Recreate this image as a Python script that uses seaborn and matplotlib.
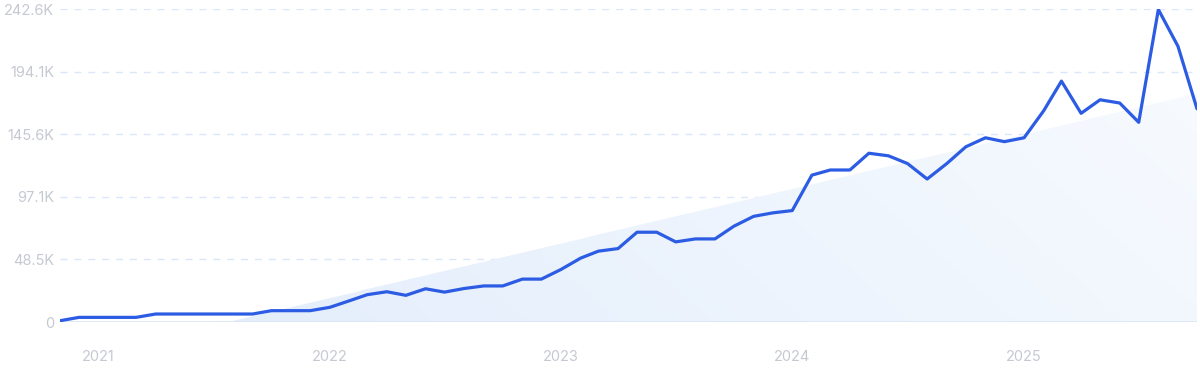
import numpy as np
import pandas as pd
import matplotlib
matplotlib.use('Agg')
import matplotlib.pyplot as plt
import matplotlib.dates as mdates
from matplotlib.colors import LinearSegmentedColormap
import seaborn as sns

# monthly values, Nov 2020 - Oct 2025 (thousands)
months = pd.date_range('2020-11-01', '2025-10-01', freq='MS')
values_k = [1.0, 3.6, 3.6, 3.6, 3.6, 6.2, 6.2, 6.2, 6.2, 6.2,
            6.2, 8.8, 8.8, 8.8, 11.4, 16.5, 21.2, 23.5, 20.7, 25.8,
            23.2, 26.0, 28.0, 28.0, 33.3, 33.3, 40.8, 49.6, 55.0, 57.0,
            69.7, 69.7, 62.2, 64.5, 64.5, 74.4, 82.0, 84.7, 86.5, 114.0,
            118.0, 118.0, 131.0, 129.0, 123.0, 111.0, 123.0, 136.0, 143.0, 140.0,
            143.0, 164.0, 187.0, 162.0, 172.5, 170.0, 155.0, 242.6, 214.0, 165.5]
ytick_vals = [0, 48520, 97040, 145560, 194080, 242600]
ytick_labels = ['0', '48.5K', '97.1K', '145.6K', '194.1K', '242.6K']
year_ticks = pd.to_datetime(['2021-01-01', '2022-01-01', '2023-01-01', '2024-01-01', '2025-01-01'])

df = pd.DataFrame({'month': months, 'value': np.array(values_k) * 1000})

# linear trend under the line
idx = np.arange(len(df))
slope, intercept = np.polyfit(idx, df['value'], 1)
trend = np.clip(slope * idx + intercept, 0, None)

sns.set_style('white')
plt.rcParams['font.family'] = ['Inter', 'DejaVu Sans']

fig = plt.figure(figsize=(12, 3.72), dpi=100)
ax = fig.add_axes([0.05, 0.1344, 0.9475, 0.8401])

xnum = mdates.date2num(df['month'])
poly = ax.fill_between(xnum, 0, trend, facecolor='none', edgecolor='none')

# soft gradient inside the trend area
cmap = LinearSegmentedColormap.from_list('fade', ['#e1ecfb', '#edf4fd', '#f8fbff'])
gx, gy = np.meshgrid(np.linspace(0, 1, 300), np.linspace(0, 1, 100))
grad = 0.8 * gx + 0.25 * (1 - gy)
im = ax.imshow(grad, cmap=cmap, aspect='auto', origin='upper',
               extent=[xnum[0], xnum[-1], 0, 242600], zorder=1,
               interpolation='bilinear')
im.set_clip_path(poly.get_paths()[0], transform=ax.transData)

for v in ytick_vals[1:]:
    ax.axhline(v, color='#dae6fa', lw=1, ls=(0, (5, 5)), zorder=0)
ax.axhline(0, color='#dbe6f6', lw=1.2, zorder=2)

sns.lineplot(x=xnum, y=df['value'], ax=ax, color='#2c5ce3', lw=2.3, zorder=3)

ax.set_xlim(xnum[0], xnum[-1])
ax.set_ylim(0, 242600)
ax.set_yticks(ytick_vals)
ax.set_yticklabels(ytick_labels)
ax.set_xticks(mdates.date2num(year_ticks))
ax.set_xticklabels([str(d.year) for d in year_ticks])
ax.tick_params(axis='both', length=0, labelsize=10.5, labelcolor='#c6c9d1')
ax.tick_params(axis='x', pad=20)
ax.tick_params(axis='y', pad=4)
ax.set_xlabel('')
ax.set_ylabel('')
for s in ax.spines.values():
    s.set_visible(False)

fig.savefig('out.png', dpi=100)
